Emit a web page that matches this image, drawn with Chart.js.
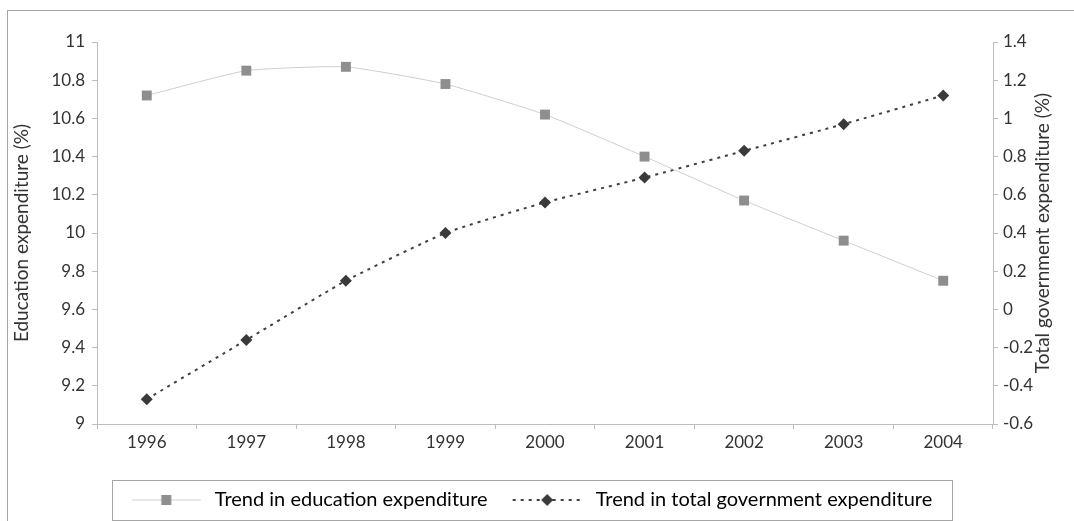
<!DOCTYPE html>
<html>
<head>
<meta charset="utf-8">
<script src="https://cdn.jsdelivr.net/npm/chart.js@4.4.1/dist/chart.umd.min.js"></script>
<style>
  body { margin: 0; background: #fff; }
  #wrap { position: absolute; left: 7px; top: 10px; width: 1066px; height: 510px;
          border-top: 1px solid #a6a6a6; border-left: 1px solid #a6a6a6; }
</style>
</head>
<body>
<div id="wrap"><canvas id="trendStats"></canvas></div>
<script>
const years = ['1996', '1997', '1998', '1999', '2000', '2001', '2002', '2003', '2004'];
const educationExp = [10.72, 10.85, 10.87, 10.78, 10.62, 10.40, 10.17, 9.96, 9.75];
const governmentExp = [-0.47, -0.16, 0.15, 0.40, 0.56, 0.69, 0.83, 0.97, 1.12];
const seriesNames = ['Trend in education expenditure', 'Trend in total government expenditure'];
const axisTitles = ['Education expenditure (%)', 'Total government expenditure (%)'];

Chart.defaults.font.family = 'Lato';
Chart.defaults.font.size = 17;
Chart.defaults.color = '#333';

// little line + marker picture for the legend
function legendSample(lineColor, lineWidth, dash, marker, fill) {
  const c = document.createElement('canvas');
  c.width = 77;
  c.height = 16;
  const g = c.getContext('2d');
  g.strokeStyle = lineColor;
  g.lineWidth = lineWidth;
  g.setLineDash(dash);
  g.beginPath();
  g.moveTo(4, 8);
  g.lineTo(73, 8);
  g.stroke();
  g.fillStyle = fill;
  g.beginPath();
  if (marker === 'rect') {
    g.rect(33.5, 3, 10, 10);
  } else {
    g.moveTo(38.5, 2); g.lineTo(44.5, 8); g.lineTo(38.5, 14); g.lineTo(32.5, 8);
  }
  g.fill();
  return c;
}

const legendFrame = {
  id: 'legendFrame',
  afterDraw(chart) {
    const boxes = chart.legend.legendHitBoxes;
    if (!boxes || !boxes.length) return;
    const ctx = chart.ctx;
    const first = boxes[0];
    const last = boxes[boxes.length - 1];
    const x0 = Math.round(first.left - 16);
    const x1 = Math.round(last.left + last.width + 20);
    const cy = Math.round(first.top + first.height / 2);
    ctx.save();
    ctx.strokeStyle = '#a6a6a6';
    ctx.lineWidth = 1;
    ctx.strokeRect(x0 + 0.5, cy - 20 + 0.5, x1 - x0, 40);
    ctx.restore();
  }
};

// right title reads bottom-to-top like the left one
const rightTitle = {
  id: 'rightTitle',
  afterDraw(chart) {
    const ctx = chart.ctx;
    const area = chart.chartArea;
    ctx.save();
    ctx.translate(chart.width - 31, (area.top + area.bottom) / 2);
    ctx.rotate(-Math.PI / 2);
    ctx.font = '19px Lato';
    ctx.fillStyle = '#333';
    ctx.textAlign = 'center';
    ctx.textBaseline = 'middle';
    ctx.fillText(axisTitles[1], 0, 0);
    ctx.restore();
  }
};

function shortNum(v) {
  return String(Number(v.toFixed(1)));
}

function trendChart(labels) {
  const ctx = document.getElementById('trendStats');
  const samples = [
    legendSample('#cfcfcf', 1, [], 'rect', '#8e8e91'),
    legendSample('#404040', 2, [3, 5], 'diamond', '#3a3a3a')
  ];

  new Chart(ctx, {
    type: 'line',
    data: {
      labels: labels,
      datasets: [{
        label: seriesNames[0],
        data: educationExp,
        yAxisID: 'y',
        borderColor: '#cfcfcf',
        borderWidth: 1,
        tension: 0.15,
        pointStyle: 'rect',
        pointRadius: 7,
        pointBorderWidth: 0,
        pointBackgroundColor: '#8e8e91'
      }, {
        label: seriesNames[1],
        data: governmentExp,
        yAxisID: 'y1',
        borderColor: '#404040',
        borderWidth: 2,
        borderDash: [3, 5],
        tension: 0.15,
        pointStyle: 'rectRot',
        pointRadius: 6,
        pointBorderWidth: 0,
        pointBackgroundColor: '#3a3a3a'
      }]
    },
    options: {
      animation: false,
      responsive: true,
      maintainAspectRatio: false,
      layout: { padding: { top: 31, bottom: 1, left: 0, right: 22 } },
      plugins: {
        tooltip: { enabled: false },
        legend: {
          position: 'bottom',
          labels: {
            usePointStyle: true,
            pointStyleWidth: 77,
            padding: 21,
            color: '#333',
            font: { size: 20 },
            generateLabels: (chart) => chart.data.datasets.map((ds, i) => ({
              text: ds.label,
              datasetIndex: i,
              pointStyle: samples[i],
              fillStyle: 'transparent',
              strokeStyle: 'transparent',
              lineWidth: 0,
              hidden: false
            }))
          }
        }
      },
      scales: {
        x: {
          offset: true,
          grid: { offset: true, drawOnChartArea: false, tickLength: 5, color: '#bdbdbd' },
          border: { color: '#bdbdbd' },
          ticks: { padding: 3 },
          afterFit: (s) => { s.height = 45; }
        },
        y: {
          position: 'left',
          min: 9,
          max: 11,
          grid: { drawOnChartArea: false, tickLength: 5, color: '#bdbdbd' },
          border: { color: '#bdbdbd' },
          ticks: { stepSize: 0.2, padding: 7, callback: shortNum },
          title: { display: true, text: axisTitles[0], font: { size: 19 }, padding: { top: 2, bottom: 0 } },
          afterFit: (s) => { s.width = 89; }
        },
        y1: {
          position: 'right',
          min: -0.6,
          max: 1.4,
          grid: { drawOnChartArea: false, tickLength: 5, color: '#bdbdbd' },
          border: { color: '#bdbdbd' },
          ticks: { stepSize: 0.2, padding: 5, callback: shortNum },
          afterFit: (s) => { s.width = 59; }
        }
      }
    },
    plugins: [legendFrame, rightTitle]
  });
}

trendChart(years);
</script>
</body>
</html>
